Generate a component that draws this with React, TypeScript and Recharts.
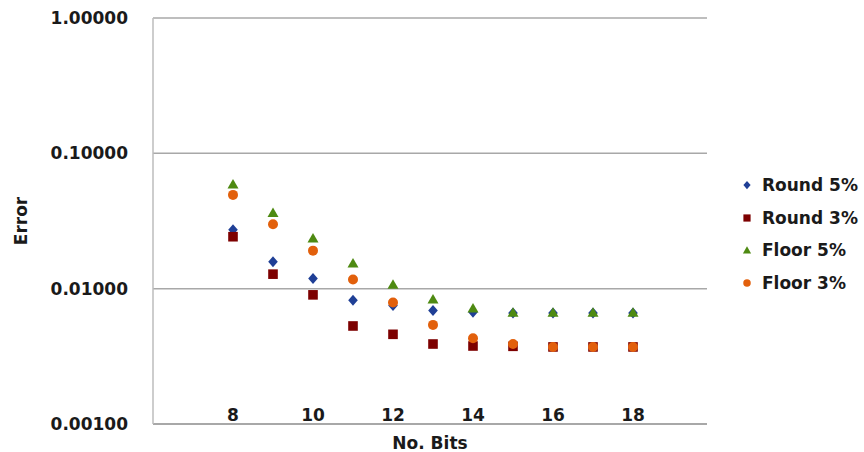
import { ScatterChart, Scatter, XAxis, YAxis, CartesianGrid, Legend } from "recharts";

const bits = [8, 9, 10, 11, 12, 13, 14, 15, 16, 17, 18];
const round5 = [0.0273, 0.0158, 0.0119, 0.0082, 0.0075, 0.0069, 0.0067, 0.0066, 0.0066, 0.0066, 0.0066];
const round3 = [0.0242, 0.0128, 0.009, 0.0053, 0.0046, 0.0039, 0.00377, 0.00375, 0.00371, 0.00371, 0.00371];
const floor5 = [0.0594, 0.0366, 0.0237, 0.0155, 0.0108, 0.0084, 0.0072, 0.0067, 0.0067, 0.0067, 0.0067];
const floor3 = [0.0493, 0.0299, 0.0191, 0.0117, 0.0079, 0.0054, 0.0043, 0.0039, 0.00371, 0.00371, 0.00371];
const xTicks = [8, 10, 12, 14, 16, 18];
const yTicks = [0.001, 0.01, 0.1, 1];

const FONT = "'DejaVu Sans', sans-serif";
const TEXT = "#1a1a1a";

const series = [
  { name: "Round 5%", values: round5, color: "#1f3f96", kind: "diamond" },
  { name: "Round 3%", values: round3, color: "#7d0000", kind: "square" },
  { name: "Floor 5%", values: floor5, color: "#4e8a12", kind: "triangle" },
  { name: "Floor 3%", values: floor3, color: "#e2600c", kind: "circle" },
];

function marker(kind: string, cx: number, cy: number, color: string, s = 1) {
  if (kind === "diamond")
    return <path d={`M${cx},${cy - 5.5 * s}L${cx + 4.8 * s},${cy}L${cx},${cy + 5.5 * s}L${cx - 4.8 * s},${cy}Z`} fill={color} />;
  if (kind === "square")
    return <rect x={cx - 4.8 * s} y={cy - 4.8 * s} width={9.6 * s} height={9.6 * s} fill={color} />;
  if (kind === "triangle")
    return <path d={`M${cx},${cy - 5 * s}L${cx + 5.5 * s},${cy + 4.5 * s}L${cx - 5.5 * s},${cy + 4.5 * s}Z`} fill={color} />;
  return <circle cx={cx} cy={cy} r={5 * s} fill={color} />;
}

function XTick({ x, y, payload }: any) {
  return (
    <text x={x} y={y - 9} textAnchor="middle" dominantBaseline="central" fill={TEXT}
      style={{ fontFamily: FONT, fontSize: 17, fontWeight: 700 }}>
      {payload.value}
    </text>
  );
}

function LegendBox() {
  return (
    <div style={{ fontFamily: FONT, fontSize: 17, fontWeight: 600, color: TEXT }}>
      {series.map((s) => (
        <div key={s.name} style={{ display: "flex", alignItems: "center", height: 32.5 }}>
          <svg width={14} height={14} style={{ marginRight: 8 }}>
            {marker(s.kind, 7, 7, s.color, 0.75)}
          </svg>
          <span>{s.name}</span>
        </div>
      ))}
    </div>
  );
}

export default function App() {
  return (
    <div style={{ position: "absolute", left: 0, top: 0, width: 864, height: 452, background: "#fff" }}>
      <ScatterChart width={864} height={452} margin={{ top: 18, right: 157, bottom: 0, left: 0 }}>
        <CartesianGrid vertical={false} stroke="#a8a8a8" strokeWidth={1.5} />
        <XAxis
          type="number"
          dataKey="bits"
          domain={[6, 19.85]}
          ticks={xTicks}
          allowDataOverflow
          height={28}
          tickLine={false}
          tickSize={0}
          tickMargin={0}
          axisLine={{ stroke: "#a0a0a0", strokeWidth: 1.5 }}
          tick={<XTick />}
          label={{
            value: "No. Bits",
            position: "insideBottom",
            offset: 3,
            style: { fontFamily: FONT, fontSize: 17, fontWeight: 700, fill: TEXT },
          }}
        />
        <YAxis
          type="number"
          dataKey="err"
          scale="log"
          domain={[0.001, 1]}
          ticks={yTicks}
          allowDataOverflow
          width={153}
          tickLine={false}
          tickSize={0}
          tickMargin={25}
          axisLine={{ stroke: "#bdbdbd", strokeWidth: 1.5 }}
          tickFormatter={(v: number) => v.toFixed(5)}
          tick={{ fill: TEXT, fontFamily: FONT, fontSize: 17, fontWeight: 700 }}
          label={{
            content: ({ viewBox }: any) => {
              const cx = viewBox.x + 21;
              const cy = viewBox.y + viewBox.height / 2;
              return (
                <text x={cx} y={cy} transform={`rotate(-90 ${cx} ${cy})`} textAnchor="middle"
                  dominantBaseline="central" fill={TEXT}
                  style={{ fontFamily: FONT, fontSize: 17, fontWeight: 700 }}>
                  Error
                </text>
              );
            },
          }}
        />
        <Legend
          layout="vertical"
          align="center"
          verticalAlign="middle"
          wrapperStyle={{ left: 740, top: 169, width: 124 }}
          content={() => <LegendBox />}
        />
        {series.map((s) => (
          <Scatter
            key={s.name}
            name={s.name}
            data={bits.map((b, i) => ({ bits: b, err: s.values[i] }))}
            fill={s.color}
            isAnimationActive={false}
            shape={(p: any) => marker(s.kind, p.cx, p.cy, s.color)}
          />
        ))}
      </ScatterChart>
    </div>
  );
}
